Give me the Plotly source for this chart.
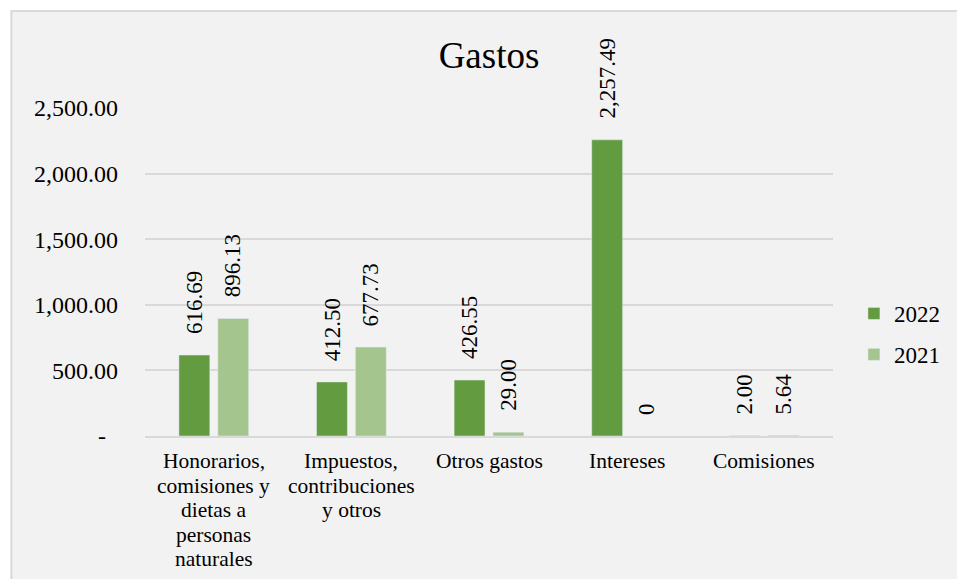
import plotly.graph_objects as go

categories = ["Honorarios, comisiones y dietas a personas naturales",
              "Impuestos, contribuciones y otros",
              "Otros gastos", "Intereses", "Comisiones"]
category_labels = ["Honorarios,<br>comisiones y<br>dietas a<br>personas<br>naturales",
                   "Impuestos,<br>contribuciones<br>y otros",
                   "Otros gastos", "Intereses", "Comisiones"]
values_2022 = [616.69, 412.50, 426.55, 2257.49, 2.00]
values_2021 = [896.13, 677.73, 29.00, 0.0, 5.64]
series_names = ["2022", "2021"]
tick_values = [0, 500, 1000, 1500, 2000, 2500]
tick_labels = ["-\u00a0\u00a0", "500.00", "1,000.00", "1,500.00", "2,000.00", "2,500.00"]

W, H = 957, 579
L, R, T, B = 145, 122, 108, 143
FONT = "Liberation Serif"
DARK = "#639b41"
LIGHT = "#a4c68e"
GRID = "#d9d9d9"


def px_x(p):
    return (p - L) / (W - L - R)


def px_y(p):
    return (H - B - p) / (H - T - B)


def fmt(v):
    return "0" if v == 0 else f"{v:,.2f}"


fig = go.Figure()
for name, vals, col in [(series_names[0], values_2022, DARK), (series_names[1], values_2021, LIGHT)]:
    fig.add_trace(go.Bar(x=categories, y=vals, name=name, marker_color=col,
                         legendgroup=name, hoverinfo="x+y"))

annotations = []
for vals, shift in [(values_2022, -19.5), (values_2021, 19.5)]:
    for c, v in zip(categories, vals):
        annotations.append(dict(x=c, y=v, xref="x", yref="y", text=fmt(v), showarrow=False,
                                textangle=-90, xshift=shift, yshift=19, yanchor="bottom",
                                xanchor="center", font=dict(family=FONT, size=23, color="black")))

for c, lab in zip(categories, category_labels):
    for i, line in enumerate(lab.split("<br>")):
        annotations.append(dict(x=c, y=0, xref="x", yref="paper", text=line, showarrow=False,
                                yanchor="middle", xanchor="center", yshift=-25 - 24.5 * i,
                                font=dict(family=FONT, size=21.5, color="black")))

fig.update_layout(
    width=W, height=H,
    margin=dict(l=L, r=R, t=T, b=B, pad=0),
    paper_bgcolor="white",
    plot_bgcolor="rgba(0,0,0,0)",
    font=dict(family=FONT, size=22, color="black"),
    title=dict(text="Gastos", x=0.5, xref="paper", xanchor="center",
               y=1 - 55 / H, yref="container", yanchor="middle",
               font=dict(family=FONT, size=37, color="black")),
    barmode="group", bargap=0.435, bargroupgap=0.205,
    showlegend=True,
    legend=dict(x=px_x(856), y=px_y(292), xanchor="left", yanchor="top",
                bgcolor="rgba(0,0,0,0)", font=dict(family=FONT, size=23, color="black"),
                tracegroupgap=8, traceorder="grouped"),
    xaxis=dict(showticklabels=False, showgrid=False, showline=True, linecolor=GRID,
               linewidth=1.5, ticks="", zeroline=False, fixedrange=True),
    yaxis=dict(range=[0, 2500], tickvals=tick_values, ticktext=tick_labels,
               showgrid=True, gridcolor=GRID, gridwidth=1.5, zeroline=False,
               showline=False, ticks="", ticklabelstandoff=26,
               tickfont=dict(family=FONT, size=24, color="black"), fixedrange=True),
    annotations=annotations,
    shapes=[dict(type="rect", xref="paper", yref="paper", layer="below",
                 x0=px_x(11), x1=px_x(990), y0=px_y(11), y1=px_y(620),
                 fillcolor="#f2f2f2", line=dict(color=GRID, width=2))],
)

fig.write_html("out.html")
